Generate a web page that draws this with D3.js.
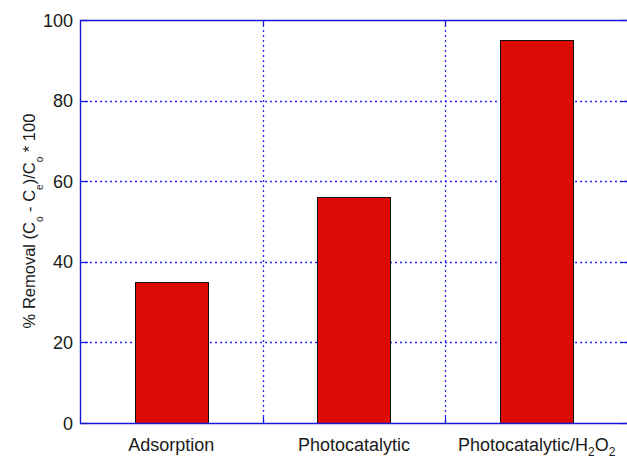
<!DOCTYPE html>
<html>
<head>
<meta charset="utf-8">
<script src="https://cdn.jsdelivr.net/npm/d3@7"></script>
<style>
  html, body { margin: 0; padding: 0; background: #fff; }
  svg { display: block; font-family: "Liberation Sans", Arial, sans-serif; }
</style>
</head>
<body>
<svg id="chart" width="627" height="459"></svg>
<script>
// Removal efficiency per treatment process
const categories = ["Adsorption", "Photocatalytic", "Photocatalytic/H2O2"];
const removal = [35, 56, 95];
const yTicks = [0, 20, 40, 60, 80, 100];
const xGrid = [1.5, 2.5];

const svg = d3.select("#chart");
const plotL = 80, plotR = 628, plotT = 20, plotB = 423;
const axisColor = "#1818d4";
const gridColor = "#2828ff";
const textColor = "#1a1a1a";

const x = d3.scaleLinear().domain([0.5, 3.5]).range([plotL, plotR]);
const y = d3.scaleLinear().domain([0, 100]).range([plotB, plotT]);

// dotted grid
svg.append("g").selectAll("line").data(yTicks.filter(d => d > 0 && d < 100)).join("line")
  .attr("x1", plotL).attr("x2", plotR)
  .attr("y1", d => Math.round(y(d)) + 0.5).attr("y2", d => Math.round(y(d)) + 0.5)
  .attr("stroke", gridColor).attr("stroke-width", 1.3)
  .attr("stroke-dasharray", "2,3");
svg.append("g").selectAll("line").data(xGrid).join("line")
  .attr("x1", d => Math.round(x(d)) + 0.5).attr("x2", d => Math.round(x(d)) + 0.5)
  .attr("y1", plotT).attr("y2", plotB)
  .attr("stroke", gridColor).attr("stroke-width", 1.3)
  .attr("stroke-dasharray", "2,3");

// bars
const barW = x(1.4) - x(1);
svg.append("g").selectAll("rect").data(removal).join("rect")
  .attr("x", (d, i) => Math.round(x(i + 1) - barW / 2) + 0.5)
  .attr("width", Math.round(barW))
  .attr("y", d => Math.round(y(d)) + 0.5)
  .attr("height", d => Math.round(y(0)) - Math.round(y(d)))
  .attr("fill", "#dd0a05")
  .attr("stroke", "#111").attr("stroke-width", 1);

// inward tick marks
const tickG = svg.append("g").attr("stroke", axisColor).attr("stroke-width", 1.2);
yTicks.forEach(t => {
  const yy = Math.round(y(t)) + 0.5;
  tickG.append("line").attr("x1", plotL).attr("x2", plotL + 8).attr("y1", yy).attr("y2", yy);
  tickG.append("line").attr("x1", plotR - 8).attr("x2", plotR).attr("y1", yy).attr("y2", yy);
});
xGrid.forEach(t => {
  const xx = Math.round(x(t)) + 0.5;
  tickG.append("line").attr("x1", xx).attr("x2", xx).attr("y1", plotB).attr("y2", plotB - 6);
  tickG.append("line").attr("x1", xx).attr("x2", xx).attr("y1", plotT).attr("y2", plotT + 6);
});

// axis box
svg.append("line").attr("x1", plotL + 0.5).attr("x2", plotL + 0.5).attr("y1", plotT).attr("y2", plotB + 0.5)
  .attr("stroke", axisColor).attr("stroke-width", 1.4);
svg.append("line").attr("x1", plotL).attr("x2", plotR).attr("y1", plotB + 0.5).attr("y2", plotB + 0.5)
  .attr("stroke", axisColor).attr("stroke-width", 1.4);
svg.append("line").attr("x1", plotL).attr("x2", plotR).attr("y1", plotT + 0.5).attr("y2", plotT + 0.5)
  .attr("stroke", axisColor).attr("stroke-width", 1.4);

// y tick labels
svg.append("g").selectAll("text").data(yTicks).join("text")
  .attr("x", plotL - 7).attr("y", d => y(d) + 6.5)
  .attr("text-anchor", "end").attr("font-size", 18).attr("fill", textColor)
  .text(d => d);

// category labels
const catG = svg.append("g").attr("font-size", 18).attr("fill", textColor);
categories.forEach((c, i) => {
  const t = catG.append("text").attr("x", x(i + 1)).attr("y", 451).attr("text-anchor", "middle");
  if (c === "Photocatalytic/H2O2") {
    t.append("tspan").text("Photocatalytic/H");
    t.append("tspan").attr("font-size", 12).attr("dy", 5).text("2");
    t.append("tspan").attr("dy", -5).text("O");
    t.append("tspan").attr("font-size", 12).attr("dy", 5).text("2");
  } else {
    t.text(c);
  }
});

// y axis title with subscripts
const yl = svg.append("text")
  .attr("transform", `translate(35, 221) rotate(-90)`)
  .attr("text-anchor", "middle").attr("font-size", 16.5).attr("fill", textColor);
const parts = [["% Removal (C", 0], ["o", 1], [" - C", 0], ["e", 1], [")/C", 0], ["o", 1], [" * 100", 0]];
let prevSub = 0;
parts.forEach(([s, sub]) => {
  const ts = yl.append("tspan").text(s);
  const dy = (sub - prevSub) * 8;
  if (dy) ts.attr("dy", dy);
  if (sub) ts.attr("font-size", 10);
  prevSub = sub;
});
</script>
</body>
</html>
